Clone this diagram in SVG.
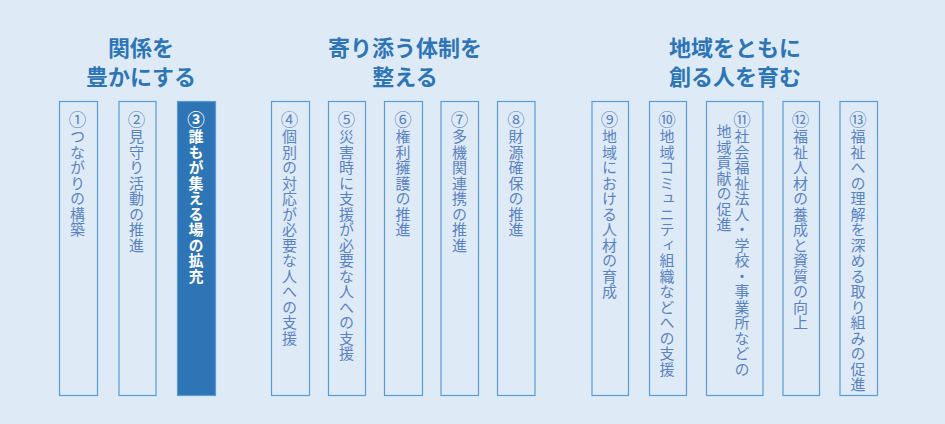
<svg xmlns="http://www.w3.org/2000/svg" width="945" height="424" viewBox="0 0 945 424">
<style>
.bg{fill:#deebf7}
.h{font-family:"Noto Sans CJK JP","Noto Sans",sans-serif;font-size:22px;font-weight:bold;fill:#2e75b6;text-anchor:middle}
.box{fill:#deebf7;stroke:#5b9bd5;stroke-width:1.2}
.boxsel{fill:#2e75b6;stroke:#5b9bd5;stroke-width:1.2}
.v{font-family:"Noto Sans CJK JP","Noto Sans",sans-serif;font-size:15px;fill:#5b82c0;writing-mode:vertical-rl;letter-spacing:0.5px}
.vsel{font-family:"Noto Sans CJK JP","Noto Sans",sans-serif;font-size:15px;font-weight:bold;fill:#ffffff;writing-mode:vertical-rl;letter-spacing:0.5px}
.n{font-size:17.5px}
</style>
<rect class="bg" x="0" y="0" width="945" height="424"/>
<g id="heading1">
<text class="h" x="141" y="56">関係を</text>
<text class="h" x="141" y="85">豊かにする</text>
</g>
<g id="heading2">
<text class="h" x="405" y="56">寄り添う体制を</text>
<text class="h" x="405" y="85">整える</text>
</g>
<g id="heading3">
<text class="h" x="735" y="56">地域をともに</text>
<text class="h" x="735" y="85">創る人を育む</text>
</g>
<g id="n1"><rect class="box" x="59.5" y="101.5" width="38" height="294"/><text class="v" x="77.5" y="111"><tspan class="n">①</tspan>つながりの構築</text></g>
<g id="n2"><rect class="box" x="119" y="101.5" width="37" height="294"/><text class="v" x="136.5" y="111"><tspan class="n">②</tspan>見守り活動の推進</text></g>
<g id="n3"><rect class="boxsel" x="177.5" y="101.5" width="38" height="294"/><text class="vsel" x="196" y="111"><tspan class="n">③</tspan>誰もが集える場の拡充</text></g>
<g id="n4"><rect class="box" x="271.5" y="101.5" width="38" height="294"/><text class="v" x="289.5" y="111"><tspan class="n">④</tspan>個別の対応が必要な人への支援</text></g>
<g id="n5"><rect class="box" x="328.5" y="101.5" width="37" height="294"/><text class="v" x="346.5" y="111"><tspan class="n">⑤</tspan>災害時に支援が必要な人への支援</text></g>
<g id="n6"><rect class="box" x="384.5" y="101.5" width="38" height="294"/><text class="v" x="403" y="111"><tspan class="n">⑥</tspan>権利擁護の推進</text></g>
<g id="n7"><rect class="box" x="441" y="101.5" width="37.5" height="294"/><text class="v" x="459.5" y="111"><tspan class="n">⑦</tspan>多機関連携の推進</text></g>
<g id="n8"><rect class="box" x="497.5" y="101.5" width="37.5" height="294"/><text class="v" x="516" y="111"><tspan class="n">⑧</tspan>財源確保の推進</text></g>
<g id="n9"><rect class="box" x="592" y="101.5" width="36.5" height="294"/><text class="v" x="609.5" y="111"><tspan class="n">⑨</tspan>地域における人材の育成</text></g>
<g id="n10"><rect class="box" x="649.5" y="101.5" width="37" height="294"/><text class="v" x="667" y="111"><tspan class="n">⑩</tspan>地域コミュニティ組織などへの支援</text></g>
<g id="n11"><rect class="box" x="706.5" y="101.5" width="56.5" height="294"/><text class="v" x="742" y="111"><tspan class="n">⑪</tspan>社会福祉法人・学校・事業所などの</text><text class="v" x="724" y="124">地域貢献の促進</text></g>
<g id="n12"><rect class="box" x="783" y="101.5" width="36.5" height="294"/><text class="v" x="800.5" y="111"><tspan class="n">⑫</tspan>福祉人材の養成と資質の向上</text></g>
<g id="n13"><rect class="box" x="840" y="101.5" width="37.5" height="294"/><text class="v" x="858" y="111"><tspan class="n">⑬</tspan>福祉への理解を深める取り組みの促進</text></g>
<g id="connectors"/>
</svg>
